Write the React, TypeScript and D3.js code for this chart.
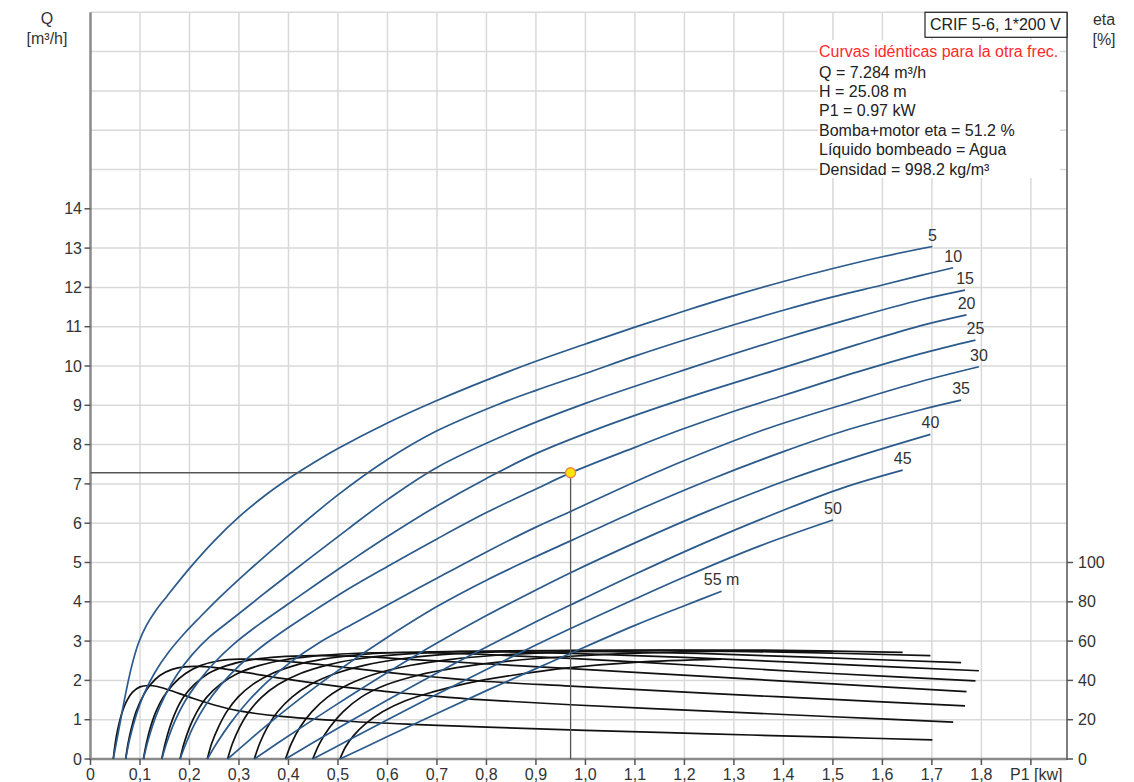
import React from "react";
import * as d3 from "d3";

// Pump curves: flow Q [m³/h] against input power P1 [kW], one curve per head.
const headLabels = ["5", "10", "15", "20", "25", "30", "35", "40", "45", "50", "55 m"];

const flowH5 = [[0.046,0],[0.058,0.8],[0.07,1.6],[0.083,2.35],[0.097,2.95],[0.113,3.4],[0.132,3.78],[0.155,4.15],[0.2,4.85],[0.25,5.55],[0.3,6.16],[0.35,6.68],[0.4,7.13],[0.45,7.53],[0.5,7.9],[0.6,8.55],[0.7,9.12],[0.8,9.64],[0.9,10.12],[1.0,10.56],[1.1,10.99],[1.2,11.4],[1.3,11.79],[1.4,12.15],[1.5,12.48],[1.6,12.78],[1.701,13.04]];
const flowH10 = [[0.071,0],[0.08,0.55],[0.092,1.1],[0.108,1.65],[0.13,2.2],[0.158,2.72],[0.19,3.2],[0.222,3.62],[0.26,4.1],[0.32,4.8],[0.4,5.68],[0.5,6.72],[0.6,7.62],[0.7,8.35],[0.827,9.04],[0.9,9.38],[1.0,9.81],[1.1,10.25],[1.2,10.66],[1.3,11.05],[1.4,11.42],[1.5,11.76],[1.6,12.06],[1.676,12.3],[1.743,12.5]];
const flowH15 = [[0.107,0],[0.117,0.5],[0.131,1.05],[0.15,1.6],[0.175,2.15],[0.205,2.65],[0.24,3.1],[0.29,3.6],[0.36,4.3],[0.44,5.08],[0.52,5.85],[0.6,6.6],[0.7,7.42],[0.861,8.37],[1.0,9.05],[1.2,9.9],[1.4,10.7],[1.55,11.25],[1.676,11.68],[1.767,11.93]];
const flowH20 = [[0.144,0],[0.155,0.45],[0.17,0.95],[0.19,1.45],[0.217,1.95],[0.25,2.45],[0.29,2.93],[0.34,3.42],[0.4,3.95],[0.46,4.48],[0.53,5.08],[0.6,5.66],[0.7,6.44],[0.8,7.14],[0.9,7.77],[1.029,8.42],[1.2,9.17],[1.4,9.96],[1.55,10.55],[1.676,11.02],[1.77,11.3]];
const flowH25 = [[0.181,0],[0.193,0.4],[0.21,0.88],[0.233,1.38],[0.263,1.88],[0.3,2.37],[0.345,2.85],[0.397,3.32],[0.455,3.8],[0.52,4.32],[0.6,4.9],[0.7,5.6],[0.8,6.27],[0.9,6.87],[0.97,7.28],[1.1,7.93],[1.191,8.37],[1.3,8.85],[1.4,9.25],[1.55,9.85],[1.676,10.31],[1.788,10.66]];
const flowH30 = [[0.236,0],[0.256,0.42],[0.282,0.9],[0.315,1.42],[0.356,1.95],[0.405,2.47],[0.462,2.96],[0.528,3.42],[0.6,3.92],[0.7,4.6],[0.8,5.27],[0.9,5.9],[0.97,6.3],[1.15,7.33],[1.359,8.37],[1.55,9.13],[1.676,9.6],[1.795,9.98]];
const flowH35 = [[0.277,0],[0.32,0.47],[0.37,1.0],[0.43,1.6],[0.5,2.25],[0.6,3.1],[0.7,3.88],[0.8,4.55],[0.9,5.15],[0.97,5.55],[1.1,6.3],[1.25,7.1],[1.4,7.82],[1.528,8.37],[1.676,8.88],[1.759,9.13]];
const flowH40 = [[0.331,0],[0.38,0.42],[0.44,0.92],[0.52,1.57],[0.6,2.2],[0.7,2.95],[0.8,3.65],[0.9,4.3],[0.97,4.74],[1.1,5.5],[1.25,6.32],[1.4,7.06],[1.55,7.7],[1.697,8.26]];
const flowH45 = [[0.394,0],[0.45,0.42],[0.52,0.93],[0.6,1.5],[0.7,2.19],[0.8,2.85],[0.9,3.49],[0.97,3.92],[1.1,4.7],[1.25,5.55],[1.4,6.33],[1.52,6.9],[1.641,7.35]];
const flowH50 = [[0.449,0],[0.52,0.47],[0.6,1.0],[0.7,1.65],[0.8,2.28],[0.9,2.9],[0.97,3.32],[1.1,4.07],[1.2,4.63],[1.35,5.41],[1.5,6.08]];
const flowH55 = [[0.504,0],[0.6,0.57],[0.7,1.16],[0.8,1.74],[0.9,2.3],[0.97,2.69],[1.1,3.4],[1.2,3.9],[1.275,4.27]];

// Pump + motor efficiency eta [%] against P1 [kW], same heads.
const etaH5 = [[0.046,0],[0.05,8],[0.055,15],[0.063,23],[0.073,29.5],[0.085,34],[0.1,36.7],[0.117,37.4],[0.135,36.9],[0.16,35],[0.2,31.5],[0.25,27.5],[0.3,24.5],[0.38,21.8],[0.52,19.2],[0.65,17.6],[0.787,16.3],[1.0,14.6],[1.25,12.8],[1.5,11.1],[1.701,9.7]];
const etaH10 = [[0.071,0],[0.076,8],[0.083,16],[0.092,24],[0.104,31],[0.12,37.5],[0.14,42.5],[0.165,45.6],[0.19,46.9],[0.22,47.1],[0.26,46.2],[0.32,43.8],[0.4,40.5],[0.5,37],[0.6,34.3],[0.7,31.9],[0.787,30.2],[0.97,27.6],[1.25,24.4],[1.5,21.5],[1.743,18.8]];
const etaH15 = [[0.107,0],[0.113,8],[0.121,16],[0.132,24],[0.147,31.5],[0.167,38],[0.192,43.5],[0.222,47.5],[0.26,50],[0.3,50.8],[0.35,50.6],[0.42,49.2],[0.5,47],[0.6,44.1],[0.7,41.6],[0.787,39.7],[0.97,37.1],[1.25,33.4],[1.5,30.3],[1.767,27]];
const etaH20 = [[0.144,0],[0.151,8],[0.16,16],[0.172,24],[0.188,31.5],[0.21,38],[0.238,43.5],[0.275,47.5],[0.32,50.3],[0.38,52],[0.45,52.6],[0.53,52.3],[0.62,51.1],[0.7,49.9],[0.787,48.6],[0.97,46],[1.25,41.9],[1.5,38.2],[1.77,34.3]];
const etaH25 = [[0.181,0],[0.189,8],[0.2,16],[0.215,24],[0.235,31.5],[0.262,38],[0.297,43.5],[0.34,47.5],[0.39,50.4],[0.45,52.4],[0.53,53.7],[0.62,54.2],[0.7,54],[0.787,53.3],[0.97,51.2],[1.25,47.2],[1.5,43.5],[1.788,39.8]];
const etaH30 = [[0.236,0],[0.245,8],[0.258,16],[0.275,24],[0.298,31.5],[0.328,38],[0.367,43.5],[0.415,47.8],[0.47,50.8],[0.54,53],[0.62,54.2],[0.72,54.7],[0.82,54.6],[0.97,53.8],[1.2,51.7],[1.5,48.3],[1.795,44.9]];
const etaH35 = [[0.277,0],[0.287,8],[0.301,16],[0.32,24],[0.346,31.5],[0.38,38],[0.424,43.5],[0.478,47.8],[0.54,50.9],[0.62,53.1],[0.72,54.5],[0.85,55.1],[0.97,55],[1.2,53.9],[1.45,51.8],[1.759,49]];
const etaH40 = [[0.331,0],[0.342,8],[0.357,16],[0.378,24],[0.407,31.5],[0.445,38],[0.495,43.5],[0.555,47.8],[0.625,50.9],[0.71,53.1],[0.82,54.5],[0.97,55.3],[1.15,55.4],[1.4,54.4],[1.697,52.6]];
const etaH45 = [[0.394,0],[0.406,8],[0.423,16],[0.447,24],[0.479,31.5],[0.522,38],[0.578,43.5],[0.645,47.6],[0.725,50.6],[0.82,52.8],[0.97,54.5],[1.15,55.3],[1.35,55.4],[1.641,54.3]];
const etaH50 = [[0.449,0],[0.463,8],[0.483,16],[0.51,24],[0.547,31.5],[0.595,37.5],[0.66,42.5],[0.74,46.5],[0.84,49.7],[0.97,52.3],[1.12,54],[1.3,54.9],[1.5,54.6]];
const etaH55 = [[0.504,0],[0.515,6],[0.532,12],[0.556,18],[0.59,24],[0.635,29.5],[0.69,34],[0.76,38.5],[0.85,42.5],[0.97,46.5],[1.1,49.2],[1.275,50.8]];

const flowCurves = [flowH5, flowH10, flowH15, flowH20, flowH25, flowH30, flowH35, flowH40, flowH45, flowH50, flowH55];
const etaCurves = [etaH5, etaH10, etaH15, etaH20, etaH25, etaH30, etaH35, etaH40, etaH45, etaH50, etaH55];

// Axis ticks
const p1Ticks = [0, 0.1, 0.2, 0.3, 0.4, 0.5, 0.6, 0.7, 0.8, 0.9, 1.0, 1.1, 1.2, 1.3, 1.4, 1.5, 1.6, 1.7, 1.8, 1.9];
const qTicks = [0, 1, 2, 3, 4, 5, 6, 7, 8, 9, 10, 11, 12, 13, 14];
const qGrid = [1, 2, 3, 4, 5, 6, 7, 8, 9, 10, 11, 12, 13, 14, 15, 16, 17, 18, 19];
const etaTicks = [0, 20, 40, 60, 80, 100];

// Duty point
const dutyP1 = 0.97;
const dutyQ = 7.284;

const infoTitle = "CRIF 5-6, 1*200 V";
const infoNote = "Curvas idénticas para la otra frec.";
const infoLines = [
  "Q = 7.284 m³/h",
  "H = 25.08 m",
  "P1 = 0.97 kW",
  "Bomba+motor eta = 51.2 %",
  "Líquido bombeado = Agua",
  "Densidad = 998.2 kg/m³",
];

const W = 1134;
const H = 782;
const FONT = "'Liberation Sans', Arial, sans-serif";

export default function App() {
  const x = d3.scaleLinear().domain([0, 1.973]).range([90.5, 1067]);
  const y = d3.scaleLinear().domain([0, 19]).range([759, 12.3]);
  // eta shares the plot height: 100 % sits at Q = 5
  const yEta = d3.scaleLinear().domain([0, 380]).range([759, 12.3]);

  const flowLine = d3
    .line<number[]>()
    .x((d) => x(d[0]))
    .y((d) => y(d[1]))
    .curve(d3.curveCatmullRom.alpha(0.5));
  const etaLine = d3
    .line<number[]>()
    .x((d) => x(d[0]))
    .y((d) => yEta(d[1]))
    .curve(d3.curveCatmullRom.alpha(0.5));

  const fmt = (v: number) => (v === 0 ? "0" : v.toFixed(1).replace(".", ","));
  const x0 = x(0);
  const x1 = x.range()[1];
  const yTop = y(19);
  const yBot = y(0);

  return (
    <div style={{ position: "absolute", left: 0, top: 0 }}>
      <svg width={W} height={H} style={{ display: "block", background: "#fff" }} fontFamily={FONT}>
        {/* grid */}
        <g stroke="#d9d9d9" strokeWidth={1.5}>
          {p1Ticks.filter((v) => v > 0).map((v) => (
            <line key={"gx" + v} x1={x(v)} x2={x(v)} y1={yTop} y2={yBot} />
          ))}
          {qGrid.map((v) => (
            <line key={"gy" + v} x1={x0} x2={x1} y1={y(v)} y2={y(v)} />
          ))}
        </g>

        {/* info panel background */}
        <rect x={818} y={40} width={242} height={138} fill="#fff" />

        {/* axes */}
        <line x1={x0} x2={x0} y1={yTop} y2={yBot + 1} stroke="#8a8a8a" strokeWidth={2.5} />
        <line x1={x0 - 1} x2={x1} y1={yBot} y2={yBot} stroke="#8a8a8a" strokeWidth={2.5} />
        <line x1={x1} x2={x1} y1={yTop} y2={yBot + 1} stroke="#555" strokeWidth={1.5} />

        {/* ticks and tick labels */}
        <g fontSize={16} fill="#333">
          {qTicks.map((v) => (
            <g key={"qt" + v}>
              <line x1={x0 - 6} x2={x0} y1={y(v)} y2={y(v)} stroke="#555" strokeWidth={1.5} />
              <text x={82} y={y(v)} dy="0.35em" textAnchor="end">{v}</text>
            </g>
          ))}
          {p1Ticks.map((v) => (
            <g key={"pt" + v}>
              <line x1={x(v)} x2={x(v)} y1={yBot} y2={yBot + 6} stroke="#555" strokeWidth={1.5} />
              {v < 1.85 && (
                <text x={x(v)} y={780} textAnchor="middle">{fmt(v)}</text>
              )}
            </g>
          ))}
          <text x={1010} y={780}>P1 [kw]</text>
          {etaTicks.map((v) => (
            <g key={"et" + v}>
              <line x1={x1} x2={x1 + 6} y1={yEta(v)} y2={yEta(v)} stroke="#555" strokeWidth={1.5} />
              <text x={1078} y={yEta(v)} dy="0.35em">{v}</text>
            </g>
          ))}
          <text x={47} y={24} textAnchor="middle">Q</text>
          <text x={47} y={44} textAnchor="middle">[m³/h]</text>
          <text x={1104} y={25} textAnchor="middle">eta</text>
          <text x={1104} y={45} textAnchor="middle">[%]</text>
        </g>

        {/* efficiency curves */}
        <g fill="none" stroke="#111" strokeWidth={1.7}>
          {etaCurves.map((c, i) => (
            <path key={"eta" + i} d={etaLine(c) || ""} />
          ))}
        </g>

        {/* flow curves */}
        <g fill="none" stroke="#2b5a8c" strokeWidth={1.7}>
          {flowCurves.map((c, i) => (
            <path key={"q" + i} d={flowLine(c) || ""} />
          ))}
        </g>

        {/* head labels */}
        <g fontSize={16} fill="#333" textAnchor="middle">
          {flowCurves.map((c, i) => {
            const end = c[c.length - 1];
            return (
              <text key={"hl" + i} x={x(end[0])} y={y(end[1]) - 6}>
                {headLabels[i]}
              </text>
            );
          })}
        </g>

        {/* duty point */}
        <g stroke="#555" strokeWidth={1.3}>
          <line x1={x0} x2={x(dutyP1)} y1={y(dutyQ)} y2={y(dutyQ)} />
          <line x1={x(dutyP1)} x2={x(dutyP1)} y1={y(dutyQ)} y2={yBot} />
        </g>
        <circle cx={x(dutyP1)} cy={y(dutyQ)} r={5} fill="#ffe600" stroke="#f08050" strokeWidth={1.3} />

        {/* info */}
        <rect x={925} y={yTop} width={x1 - 925} height={25} fill="#fff" stroke="#222" strokeWidth={1.2} />
        <text x={930} y={30} fontSize={16} fill="#222">{infoTitle}</text>
        <g fontSize={16}>
          <text x={819} y={57} fill="#ff2a2a">{infoNote}</text>
          {infoLines.map((t, i) => (
            <text key={"il" + i} x={819} y={77.5 + i * 19.4} fill="#222">{t}</text>
          ))}
        </g>
      </svg>
    </div>
  );
}
